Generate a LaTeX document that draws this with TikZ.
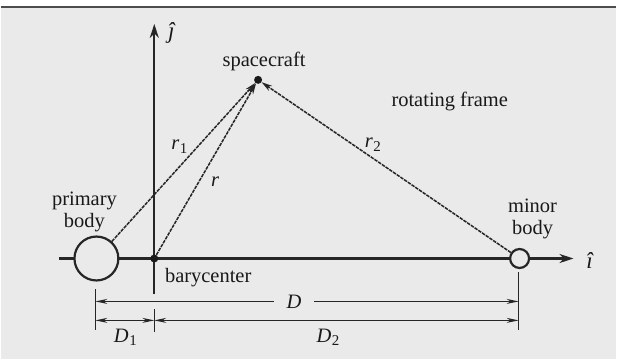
\documentclass[tikz,border=0pt]{standalone}
\usepackage{fontspec}
\setmainfont{Liberation Serif}
\usetikzlibrary{arrows.meta}
\definecolor{bgc}{HTML}{EAEAEA}
\newcommand\mysub[2]{\textit{#1}\kern0.5pt\raisebox{-0.35ex}{\fontsize{15}{15}\selectfont #2}}
\begin{document}
\begin{tikzpicture}[x=1pt,y=-1pt,
  txt/.style={font=\fontsize{20.5}{23}\selectfont, inner sep=0pt, text=black!90},
  hat/.style={font=\fontsize{23}{23}\selectfont\itshape, inner sep=0pt, text=black!90},
  axis/.style={line width=2.2pt, black!85},
  vec/.style={line width=1.5pt, black!85, dash pattern=on 3.5pt off 1pt, -{Stealth[length=11pt,width=6pt]}},
  dim/.style={line width=1pt, black!85},
  dimtip/.style={{Stealth[length=12pt,width=5pt]}-{Stealth[length=12pt,width=5pt]}},
  body/.style={circle, draw=black!85, line width=2.2pt, fill=bgc, inner sep=0pt},
  dot/.style={circle, fill=black!90, inner sep=0pt}]
\fill[white] (0,0) rectangle (617,360);
\fill[bgc] (0,7) rectangle (617,360);
\draw[black!70, line width=1.2pt] (0,7) -- (617,7);
\useasboundingbox (0,0) rectangle (617,360);
% axes
\coordinate (xl) at (59,259);
\coordinate (xr) at (574,259);
\coordinate (yt) at (154,24);
\coordinate (yb) at (154,295);
\draw[axis,-{Stealth[length=14pt,width=9pt]}] (yb) -- (yt);
\draw[axis,-{Stealth[length=14pt,width=9pt]}] (xl) -- (xr);
% bodies
\node[body, minimum size=44pt] (P) at (96,259) {};
\node[body, minimum size=19pt] (M) at (520,259) {};
\node[dot, minimum size=8pt] (B) at (154,259) {};
\node[dot, minimum size=8pt] (S) at (258,80) {};
% vectors
\draw[vec] (P) -- (S);
\draw[vec] (B) -- (S);
\draw[vec] (M) -- (S);
% labels
\node[txt] (lsc) at (264,62) {spacecraft};
\node[txt] (lrf) at (450,102) {rotating frame};
\node[txt, align=center] (lpb) at (84,212) {primary\\[-1pt]body};
\node[txt, align=center] (lmb) at (533,219) {minor\\[-1pt]body};
\node[txt] (lbc) at (208,278) {barycenter};
\node[txt] (lr1) at (179,147) {\mysub{r}{1}};
\node[txt] (lr) at (215,182) {\textit{r}};
\node[txt] (lr2) at (373,145) {\mysub{r}{2}};
\node[hat] (li) at (590,261) {î};
\node[hat] (lj) at (171,33) {ĵ};
% dimension lines
\coordinate (L1) at (95,290); \coordinate (L2) at (95,331);
\coordinate (R1) at (519,273); \coordinate (R2) at (519,331);
\coordinate (T1) at (154,310); \coordinate (T2) at (154,333);
\draw[dim] (L1) -- (L2);
\draw[dim] (R1) -- (R2);
\draw[dim] (T1) -- (T2);
\coordinate (DL) at (95,302); \coordinate (DR) at (519,302);
\node[txt, minimum width=40pt] (lD) at (294,302) {\textit{D}};
\draw[dim,-{Stealth[length=12pt,width=5pt]}] (lD.west) -- (DL);
\draw[dim,-{Stealth[length=12pt,width=5pt]}] (lD.east) -- (DR);
\coordinate (EL) at (95,321); \coordinate (EM) at (154,321); \coordinate (ER) at (519,321);
\draw[dim,dimtip] (EL) -- (EM);
\draw[dim,dimtip] (EM) -- (ER);
\node[txt] (lD1) at (125,338) {\mysub{D}{1}};
\node[txt] (lD2) at (328,338) {\mysub{D}{2}};
\end{tikzpicture}
\end{document}
